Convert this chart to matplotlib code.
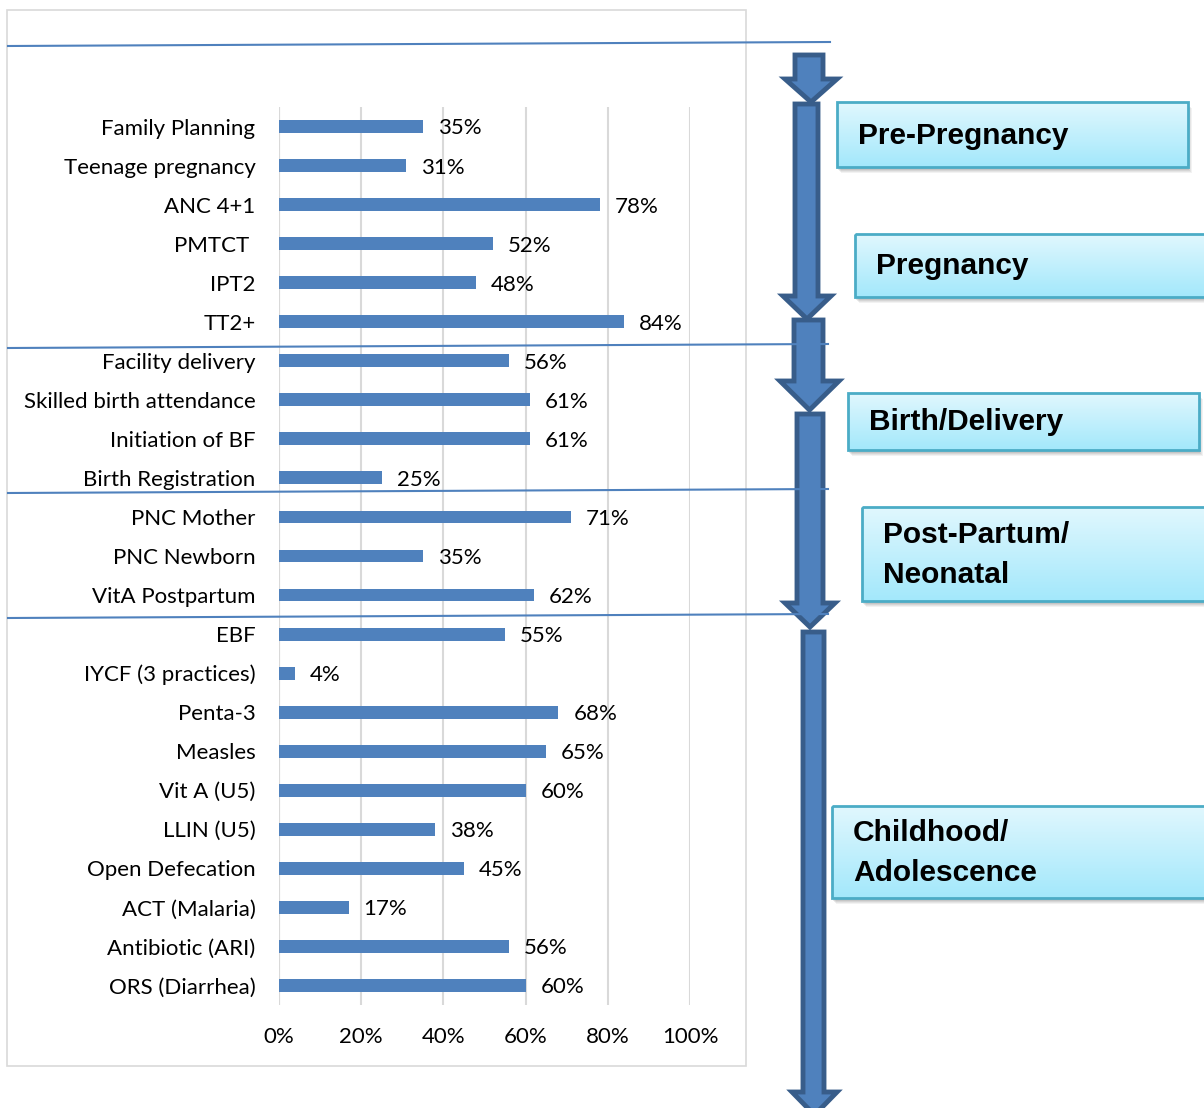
import numpy as np
import matplotlib
matplotlib.use("Agg")
import matplotlib.pyplot as plt
from matplotlib.patches import Rectangle, Polygon

# --- data ---
categories = [
    "Family Planning", "Teenage pregnancy", "ANC 4+1", "PMTCT ", "IPT2", "TT2+",
    "Facility delivery", "Skilled birth attendance", "Initiation of BF", "Birth Registration",
    "PNC Mother", "PNC Newborn", "VitA Postpartum",
    "EBF", "IYCF (3 practices)", "Penta-3", "Measles", "Vit A (U5)", "LLIN (U5)",
    "Open Defecation", "ACT (Malaria)", "Antibiotic (ARI)", "ORS (Diarrhea)",
]
values = [35, 31, 78, 52, 48, 84,
          56, 61, 61, 25,
          71, 35, 62,
          55, 4, 68, 65, 60, 38, 45, 17, 56, 60]
x_ticks = [0, 20, 40, 60, 80, 100]
x_tick_labels = ["0%", "20%", "40%", "60%", "80%", "100%"]

stages = ["Pre-Pregnancy", "Pregnancy", "Birth/Delivery",
          "Post-Partum/\nNeonatal", "Childhood/\nAdolescence"]

BAR = "#4F81BD"
EDGE = "#385D8A"
W, H = 1204, 1108
LABEL_FONT = "Lato"
FS = 16

fig = plt.figure(figsize=(W / 100, H / 100), dpi=100)

# main bar chart (pixel extents of plot area: x 279..690, y 107..1005)
ax = fig.add_axes([279 / W, 1 - 1005 / H, (690 - 279) / W, (1005 - 107) / H])
y = np.arange(len(categories))
ax.barh(y, values, height=0.33, color=BAR, zorder=2)
ax.set_xlim(0, 100)
ax.set_ylim(len(categories) - 0.5, -0.5)
ax.set_xticks(x_ticks)
ax.set_xticklabels(x_tick_labels, fontsize=FS, family=LABEL_FONT)
ax.set_yticks(y)
ax.set_yticklabels(categories, fontsize=FS, family=LABEL_FONT)
ax.tick_params(length=0)
ax.tick_params(axis="y", pad=17)
ax.tick_params(axis="x", pad=16)
ax.grid(axis="x", color="#D9D9D9", linewidth=1.5, zorder=0)
for s in ax.spines.values():
    s.set_visible(False)
ax.axvline(0, color="#D9D9D9", linewidth=1.5, zorder=0)
for yi, v in zip(y, values):
    ax.text(v + 3.6, yi + 0.05, f"{v}%", va="center", ha="left",
            fontsize=FS, family=LABEL_FONT, zorder=3)

# overlay in pixel coordinates for decorations
ov = fig.add_axes([0, 0, 1, 1], zorder=5)
ov.set_xlim(0, W)
ov.set_ylim(H, 0)
ov.axis("off")
ov.patch.set_alpha(0)

# chart frame
ov.add_patch(Rectangle((7, 10), 739, 1056, fill=False, edgecolor="#D9D9D9", linewidth=1.2))

# stage separator lines
for (x0, y0, x1, y1) in [(8, 46, 830, 42), (8, 348, 828, 344),
                         (8, 493, 828, 489), (8, 618, 828, 614)]:
    ov.plot([x0, x1], [y0, y1], color=BAR, linewidth=1.5)

# block arrows: (shaft x0, shaft x1, top, head start, head x0, head x1, tip)
arrows = [
    (795, 823, 55, 79, 785, 837, 102),
    (795, 818, 104, 296, 783, 831, 319),
    (794, 823, 320, 381, 780, 839, 410),
    (797, 823, 414, 603, 785, 835, 627),
    (803, 824, 632, 1092, 792, 837, 1115),
]
for sx0, sx1, top, hs, hx0, hx1, tip in arrows:
    cx = (hx0 + hx1) / 2
    pts = [(sx0, top), (sx1, top), (sx1, hs), (hx1, hs), (cx, tip), (hx0, hs), (sx0, hs)]
    ov.add_patch(Polygon(pts, closed=True, facecolor=BAR, edgecolor=EDGE,
                         linewidth=3.5, joinstyle="miter"))

# stage boxes: (x0, y0, x1, y1)
boxes = [
    (837, 102, 1188, 167),
    (855, 234, 1215, 297),
    (848, 393, 1199, 450),
    (862, 507, 1215, 601),
    (832, 806, 1215, 898),
]
grad = np.linspace(0, 1, 64)[:, None, None]
top_c = np.array([0.88, 0.97, 0.995])
bot_c = np.array([0.64, 0.91, 0.985])
grad_img = top_c * (1 - grad) + bot_c * grad
for (x0, y0, x1, y1), label in zip(boxes, stages):
    for k, a in [(5, 0.10), (4, 0.12), (3, 0.15), (2, 0.18)]:
        ov.add_patch(Rectangle((x0 + k - 1, y0 + k + 1), x1 - x0, y1 - y0,
                               facecolor="#808080", edgecolor="none", alpha=a))
    ov.imshow(grad_img, extent=(x0, x1, y1, y0), origin="upper", aspect="auto", zorder=2)
    ov.add_patch(Rectangle((x0, y0), x1 - x0, y1 - y0, fill=False,
                           edgecolor="#4BACC6", linewidth=2, zorder=3))
    ov.text(x0 + 21, (y0 + y1) / 2 + 1, label, ha="left", va="center",
            fontsize=21.5, fontweight="bold", family="Liberation Sans",
            linespacing=1.55, zorder=4)
ov.set_xlim(0, W)
ov.set_ylim(H, 0)

fig.savefig("out.png", dpi=100)
